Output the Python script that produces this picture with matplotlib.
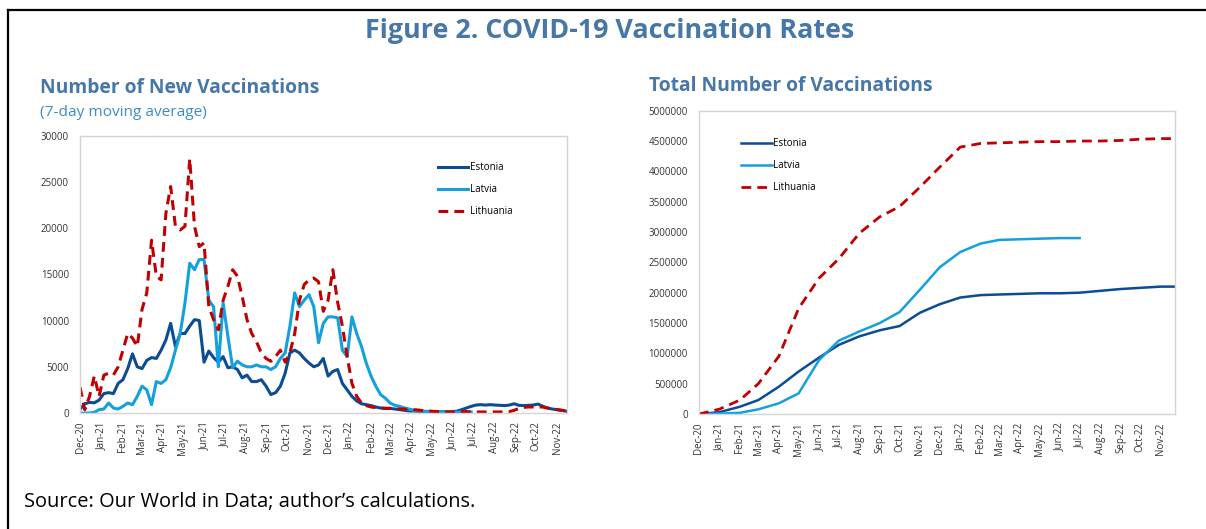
import matplotlib
matplotlib.use('Agg')
import matplotlib.pyplot as plt
from matplotlib.lines import Line2D
import pandas as pd

plt.rcParams['font.family'] = ['Open Sans', 'DejaVu Sans']

# ----------------------------------
# data
start = '2020-12-27'

# weekly 7-day moving average of new vaccinations
estonia_new = [400, 1000, 1150, 1100, 1400, 2100, 2200, 2100, 3200, 3600,
               4800, 6400, 5000, 4800, 5700, 6000, 5900, 6800, 7900, 9700,
               7200, 8600, 8600, 9400, 10100, 10000, 5500, 6700, 6000, 5500,
               6100, 4900, 5000, 4700, 3800, 4100, 3400, 3400, 3600, 2900,
               2000, 2200, 2900, 4300, 6500, 6800, 6500, 5900, 5400, 5000,
               5200, 5900, 4000, 4500, 4700, 3200, 2500, 1800, 1300, 1000,
               900, 800, 650, 540, 500, 500, 430, 360, 290, 220,
               220, 180, 180, 150, 150, 150, 150, 150, 150, 200,
               360, 540, 720, 860, 900, 860, 900, 860, 830, 800,
               860, 1000, 830, 800, 830, 860, 970, 720, 540, 430,
               360, 290, 180]
latvia_new = [0, 0, 0, 70, 360, 430, 1080, 540, 430, 720,
              1080, 900, 1800, 2900, 2500, 900, 3400, 3200, 3600, 4900,
              6800, 8600, 11900, 16200, 15500, 16600, 16600, 12200, 11500, 5000,
              11900, 8300, 4900, 5600, 5200, 5000, 5000, 5200, 5000, 5000,
              4700, 5000, 5900, 6500, 9400, 13000, 11500, 12200, 12800, 11500,
              7600, 9700, 10400, 10400, 10300, 6800, 6100, 10400, 8600, 7200,
              5400, 4000, 2900, 2000, 1600, 1080, 830, 720, 540, 430,
              290, 220, 180, 180, 150, 150, 150, 150, 110, 110,
              110, 110, 110]
lithuania_new = [2800, 360, 1800, 4000, 1800, 4100, 4300, 4100, 5000, 6800,
                 8600, 8100, 7200, 11200, 13000, 18700, 14800, 14400, 21600, 24500,
                 20200, 19800, 20200, 27500, 20200, 18000, 18400, 11500, 10100, 9000,
                 12200, 13700, 15500, 14800, 12600, 10100, 8600, 7700, 6500, 5900,
                 5600, 6100, 6800, 5500, 6500, 8600, 12200, 13900, 14400, 14600,
                 14200, 11000, 12200, 15500, 12000, 9400, 6100, 3200, 1800, 1080,
                 800, 650, 580, 540, 500, 500, 470, 430, 430, 400,
                 360, 320, 250, 220, 180, 150, 150, 110, 110, 110,
                 150, 150, 110, 110, 110, 110, 110, 110, 110, 150,
                 150, 290, 500, 610, 650, 650, 650, 650, 540, 430,
                 360, 290, 220]

# monthly cumulative totals (last value = end of axis)
estonia_total = [0, 30000, 120000, 230000, 450000, 700000, 930000, 1140000,
                 1280000, 1380000, 1450000, 1670000, 1810000, 1920000, 1960000,
                 1970000, 1980000, 1990000, 1990000, 2000000, 2030000, 2060000,
                 2080000, 2100000, 2100000]
latvia_total = [0, 5000, 20000, 77000, 176000, 340000, 890000, 1210000,
                1360000, 1500000, 1680000, 2050000, 2420000, 2670000, 2810000,
                2870000, 2880000, 2890000, 2900000, 2900000]
lithuania_total = [0, 80000, 230000, 500000, 950000, 1740000, 2240000, 2560000,
                   2980000, 3250000, 3420000, 3740000, 4070000, 4400000, 4460000,
                   4470000, 4480000, 4490000, 4490000, 4500000, 4500000, 4510000,
                   4530000, 4540000, 4540000]

countries = ['Estonia', 'Latvia', 'Lithuania']
colors = ['#0b4c93', '#14a0dc', '#c00000']

# ----------------------------------
W, H = 1206, 529
title_col = '#4677a7'

def rect(l, t, r, b):
    return [l / W, 1 - b / H, (r - l) / W, (b - t) / H]

start_ts = pd.Timestamp(start)
week_dates = pd.date_range(start_ts, periods=len(estonia_new), freq='7D')
month_ticks = [start_ts + pd.DateOffset(months=k) for k in range(24)]
month_labels = [d.strftime('%b-%y') for d in month_ticks]
total_dates = month_ticks + [pd.Timestamp('2022-12-19')]

fig = plt.figure(figsize=(W / 100, H / 100), dpi=100)

ax1 = fig.add_axes(rect(80, 135.7, 567.3, 413))
ax2 = fig.add_axes(rect(699, 110.7, 1175.3, 414))

new_series = [estonia_new, latvia_new, lithuania_new]
tot_series = [estonia_total, latvia_total, lithuania_total]

for name, col, vals in zip(countries, colors, new_series):
    kw = dict(dashes=(3.2, 2.0)) if name == 'Lithuania' else {}
    ax1.plot(week_dates[:len(vals)], vals, color=col, lw=2.2, label=name, **kw)

for name, col, vals in zip(countries, colors, tot_series):
    kw = dict(dashes=(3.5, 2.2), lw=2.0) if name == 'Lithuania' else dict(lw=1.8)
    ax2.plot(total_dates[:len(vals)], vals, color=col, label=name, **kw)

for ax, ymax, step, xend in [(ax1, 30000, 5000, '2022-12-12'),
                             (ax2, 5000000, 500000, '2022-12-19')]:
    ax.set_xlim(start_ts, pd.Timestamp(xend))
    ax.set_ylim(0, ymax)
    yt = list(range(0, ymax + 1, step))
    ax.set_yticks(yt)
    ax.set_yticklabels([str(v) for v in yt], fontsize=7, color='#333333')
    ax.set_xticks(month_ticks)
    ax.set_xticklabels(month_labels, rotation=90, fontsize=7, color='#333333')
    ax.tick_params(axis='y', length=0, pad=8)
    ax.tick_params(axis='x', length=0, pad=6)
    for s in ax.spines.values():
        s.set_color('#d4d4d4')
        s.set_linewidth(1.0)

ax1.legend(loc='upper left', bbox_to_anchor=(0.735, 0.905), frameon=False,
           fontsize=7, handlelength=3.1, handletextpad=0.2, labelspacing=1.15,
           borderpad=0, borderaxespad=0)
ax2.legend(loc='upper left', bbox_to_anchor=(0.089, 0.91), frameon=False,
           fontsize=7, handlelength=3.1, handletextpad=0.2, labelspacing=1.15,
           borderpad=0, borderaxespad=0)

# ----------------------------------
# texts
fig.text(609.5 / W, 1 - 31 / H, 'Figure 2. COVID-19 Vaccination Rates',
         ha='center', va='center', fontsize=19.4, fontweight='bold', color=title_col)
fig.text(40 / W, 1 - 88 / H, 'Number of New Vaccinations', ha='left', va='center',
         fontsize=13.9, fontweight='bold', color=title_col)
fig.text(40 / W, 1 - 112 / H, '(7-day moving average)', ha='left', va='center',
         fontsize=11.1, color='#3e8bc6')
fig.text(649 / W, 1 - 86 / H, 'Total Number of Vaccinations', ha='left', va='center',
         fontsize=13.9, fontweight='bold', color=title_col)
fig.text(24 / W, 1 - 502 / H, 'Source: Our World in Data; author\u2019s calculations.',
         ha='left', va='center', fontsize=14.4, color='black')

# frame lines (top and left)
fig.add_artist(Line2D([8 / W, 1], [1 - 10 / H, 1 - 10 / H], color='black', lw=1.6,
                      transform=fig.transFigure))
fig.add_artist(Line2D([8 / W, 8 / W], [0, 1 - 10 / H], color='black', lw=1.6,
                      transform=fig.transFigure))

fig.savefig('out.png', dpi=100)
